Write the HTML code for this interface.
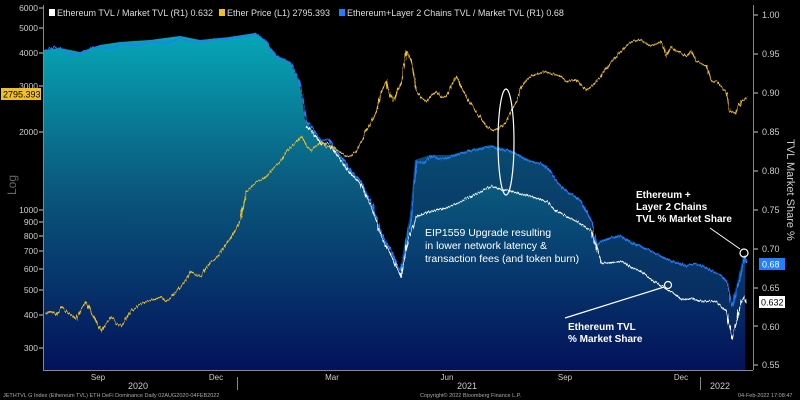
<!DOCTYPE html>
<html><head><meta charset="utf-8"><style>
body{margin:0;background:#000;}
svg{display:block;font-family:"Liberation Sans",sans-serif;}
</style></head><body>
<svg width="800" height="400" viewBox="0 0 800 400">
<defs>
<linearGradient id="g" x1="0" y1="0" x2="0" y2="1">
<stop offset="0" stop-color="#06a7b7"/>
<stop offset="0.45" stop-color="#0a5a7e"/>
<stop offset="1" stop-color="#03125a"/>
</linearGradient>
<filter id="j" x="-5%" y="-5%" width="110%" height="110%">
<feTurbulence type="turbulence" baseFrequency="0.45 0.05" numOctaves="1" seed="3" result="n"/>
<feDisplacementMap in="SourceGraphic" in2="n" scale="4" xChannelSelector="A" yChannelSelector="R"/>
</filter>
</defs>
<rect width="800" height="400" fill="#000"/>
<path fill="url(#g)" d="M44,50 L60,48 L80,52 L100,45 L120,42 L150,40 L180,36 L200,40 L230,37 L255,33 L265,40 L275,55 L290,62 L300,85 L305,120 L320,140 L335,150 L350,170 L360,180 L370,200 L380,230 L390,250 L400,270 L405,240 L410,215 L415,160 L430,155 L450,155 L470,150 L490,145 L510,150 L530,160 L545,165 L555,180 L565,190 L580,200 L590,220 L595,245 L600,240 L620,235 L640,245 L660,255 L670,260 L685,265 L700,265 L712,270 L725,280 L731,305 L735,290 L740,270 L743,255 L745,262 L745,370 L44,370 Z"/>
<path fill="#0a2f5c" opacity="0.55" d="M405,240 L410,215 L415,160 L430,155 L450,155 L470,150 L490,145 L510,150 L530,160 L545,165 L555,180 L565,190 L580,200 L590,220 L595,245 L600,240 L620,235 L640,245 L660,255 L670,260 L685,265 L700,265 L712,270 L725,280 L731,305 L735,290 L740,270 L743,255 L743,305 L740,300 L735,320 L730,335 L725,310 L715,300 L700,300 L680,298 L670,290 L660,285 L640,270 L620,260 L600,262 L590,230 L575,220 L565,215 L555,210 L545,200 L530,195 L510,190 L490,185 L470,195 L450,205 L430,210 L415,215 Z"/>
<g filter="url(#j)">
<polyline fill="none" stroke="#1f7fff" stroke-width="1.5" points="44,50 52,46 60,48 70,54 80,52 90,47 100,45 110,48 120,42 135,44 150,40 165,42 180,36 190,41 200,40 215,38 230,37 242,35 255,33 265,40 275,55 283,58 290,62 300,85 305,120 312,128 320,140 328,138 335,150 342,158 350,170 360,180 365,192 370,200 375,215 380,230 385,242 390,250 395,262 400,270 405,240 410,215 415,160 422,162 430,155 440,158 450,155 460,152 470,150 480,148 490,145 500,149 510,150 520,156 530,160 538,162 545,165 555,180 565,190 572,194 580,200 590,220 595,245 600,240 610,236 620,235 630,242 640,245 650,250 660,255 670,260 678,262 685,265 693,262 700,265 712,270 720,274 725,280 731,305 735,290 740,270 743,255 745,262"/>
<polyline fill="none" stroke="#fff" stroke-width="1.2" points="305,125 312,132 320,143 328,142 335,153 342,162 350,173 360,183 365,195 370,205 375,220 380,235 385,246 390,255 395,266 400,275 405,245 415,215 422,213 430,210 440,208 450,205 460,200 470,195 480,190 490,185 500,188 510,190 520,193 530,195 545,200 555,210 565,215 575,220 590,230 600,262 610,261 620,260 630,266 640,270 650,278 660,285 670,290 680,298 690,297 700,300 715,300 725,310 731,338 735,320 740,300 743,295 745,302"/>
<polyline fill="none" stroke="#f0c020" stroke-width="1.2" points="44,312 50,310 55,314 60,305 67,312 75,318 80,308 85,300 90,312 95,320 100,330 105,322 110,315 115,322 120,325 125,316 130,310 138,304 145,300 152,298 160,295 165,300 170,295 175,290 180,285 185,278 190,270 195,274 200,275 205,266 210,260 215,256 220,250 225,242 230,235 235,228 240,215 245,190 250,186 255,180 260,178 265,175 270,170 275,165 280,158 285,150 290,146 295,140 300,135 305,144 310,150 315,144 320,140 325,146 330,145 338,150 345,155 350,154 355,150 360,140 365,130 370,120 375,110 380,90 385,80 388,92 392,100 396,90 400,80 405,50 410,60 415,90 420,96 425,100 430,94 435,90 440,96 445,95 450,84 455,75 460,86 465,95 470,104 475,110 480,118 485,125 490,128 495,130 500,126 505,120 510,110 515,100 520,85 525,78 530,75 538,72 545,70 552,73 560,75 565,80 570,79 575,78 580,84 585,90 590,85 595,80 600,75 605,68 610,60 615,55 620,50 625,45 630,40 635,39 640,38 645,42 650,45 655,42 660,40 665,55 670,45 675,50 680,52 685,55 690,50 695,60 700,62 705,65 710,80 715,80 720,85 725,90 728,110 732,111 735,112 740,100 743,98 745,96"/>
</g>
<line x1="43.5" y1="5" x2="43.5" y2="370" stroke="#888"/>
<line x1="43" y1="370.5" x2="753" y2="370.5" stroke="#888"/>
<line x1="753.5" y1="5" x2="753.5" y2="370" stroke="#888"/>
<g font-size="8.5" fill="#ccc" text-anchor="end">
<text x="38" y="11">6000</text><text x="38" y="31">5000</text><text x="38" y="56">4000</text><text x="38" y="89">3000</text><text x="38" y="135">2000</text><text x="38" y="213">1000</text><text x="38" y="225">900</text><text x="38" y="239">800</text><text x="38" y="254">700</text><text x="38" y="272">600</text><text x="38" y="293">500</text><text x="38" y="318">400</text><text x="38" y="351">300</text>
</g>
<g stroke="#ccc"><line x1="39" y1="8" x2="43" y2="8"/><line x1="39" y1="28" x2="43" y2="28"/><line x1="39" y1="53" x2="43" y2="53"/><line x1="39" y1="86" x2="43" y2="86"/><line x1="39" y1="132" x2="43" y2="132"/><line x1="39" y1="210" x2="43" y2="210"/><line x1="39" y1="222" x2="43" y2="222"/><line x1="39" y1="236" x2="43" y2="236"/><line x1="39" y1="251" x2="43" y2="251"/><line x1="39" y1="269" x2="43" y2="269"/><line x1="39" y1="290" x2="43" y2="290"/><line x1="39" y1="315" x2="43" y2="315"/><line x1="39" y1="348" x2="43" y2="348"/></g>
<rect x="1" y="88" width="40" height="12" fill="#f0c020"/>
<text x="3" y="97.5" font-size="9" fill="#000">2795.393</text>
<g font-size="9" fill="#ccc">
<text x="762" y="18">1.00</text><text x="762" y="57">0.95</text><text x="762" y="96">0.90</text><text x="762" y="135">0.85</text><text x="762" y="174">0.80</text><text x="762" y="213">0.75</text><text x="762" y="252">0.70</text><text x="762" y="291">0.65</text><text x="762" y="330">0.60</text><text x="762" y="368">0.55</text>
</g>
<g stroke="#ccc"><line x1="754" y1="15" x2="758" y2="15"/><line x1="754" y1="54" x2="758" y2="54"/><line x1="754" y1="93" x2="758" y2="93"/><line x1="754" y1="132" x2="758" y2="132"/><line x1="754" y1="171" x2="758" y2="171"/><line x1="754" y1="210" x2="758" y2="210"/><line x1="754" y1="249" x2="758" y2="249"/><line x1="754" y1="288" x2="758" y2="288"/><line x1="754" y1="326" x2="758" y2="326"/><line x1="754" y1="365" x2="758" y2="365"/></g>
<rect x="759" y="258" width="26" height="12" fill="#1f7fff"/>
<text x="762" y="267.5" font-size="9" fill="#fff">0.68</text>
<rect x="759" y="296" width="26" height="12" fill="#fff"/>
<text x="761" y="305.5" font-size="9" fill="#000">0.632</text>
<text transform="translate(16,185) rotate(-90)" font-size="12" fill="#666" text-anchor="middle">Log</text>
<text transform="translate(787,190) rotate(90)" font-size="11" fill="#ccc" text-anchor="middle">TVL Market Share %</text>
<g font-size="8" fill="#ccc" text-anchor="middle">
<text x="98" y="380">Sep</text><text x="216" y="380">Dec</text><text x="332" y="380">Mar</text><text x="447" y="380">Jun</text><text x="565" y="380">Sep</text><text x="681" y="380">Dec</text>
<text x="138" y="389" font-size="9">2020</text><text x="467" y="389" font-size="9">2021</text><text x="720" y="389" font-size="9">2022</text>
</g>
<line x1="237.5" y1="377" x2="237.5" y2="390" stroke="#888"/>
<line x1="700.5" y1="377" x2="700.5" y2="390" stroke="#888"/>
<g font-size="5.5" fill="#aaa">
<text x="3" y="397">JETHTVL G Index (Ethereum TVL) ETH DeFi Dominance  Daily 02AUG2020-04FEB2022</text>
<text x="420" y="397">Copyright© 2022 Bloomberg Finance L.P.</text>
<text x="738" y="397">04-Feb-2022 17:08:47</text>
</g>
<rect x="45" y="5" width="510" height="16" fill="#000"/>
<g font-size="9" fill="#ddd">
<rect x="49" y="9" width="6" height="7" fill="#fff"/><text x="57" y="16">Ethereum TVL / Market TVL (R1) 0.632</text>
<rect x="219" y="9" width="6" height="7" fill="#f0c020"/><text x="227" y="16">Ether Price (L1) 2795.393</text>
<rect x="339" y="9" width="6" height="7" fill="#1f7fff"/><text x="347" y="16">Ethereum+Layer 2 Chains TVL / Market TVL (R1) 0.68</text>
</g>
<ellipse cx="506" cy="142" rx="8" ry="53" fill="none" stroke="#fff" stroke-width="1.2"/>
<g font-size="10.5" fill="#fff">
<text x="425" y="236">EIP1559 Upgrade resulting</text>
<text x="425" y="249">in lower network latency &amp;</text>
<text x="425" y="262">transaction fees (and token burn)</text>
</g>
<g font-size="10" fill="#fff" font-weight="bold">
<text x="636" y="198">Ethereum +</text>
<text x="636" y="210">Layer 2 Chains</text>
<text x="636" y="222">TVL % Market Share</text>
<text x="568" y="330">Ethereum TVL</text>
<text x="568" y="342">% Market Share</text>
</g>
<line x1="710" y1="228" x2="740" y2="249" stroke="#fff"/>
<circle cx="744" cy="253" r="4" fill="none" stroke="#fff" stroke-width="1.2"/>
<line x1="565" y1="318" x2="664" y2="287" stroke="#fff" stroke-width="1.2"/>
<circle cx="668" cy="285" r="3.5" fill="none" stroke="#fff" stroke-width="1.2"/>
</svg>
</body></html>
